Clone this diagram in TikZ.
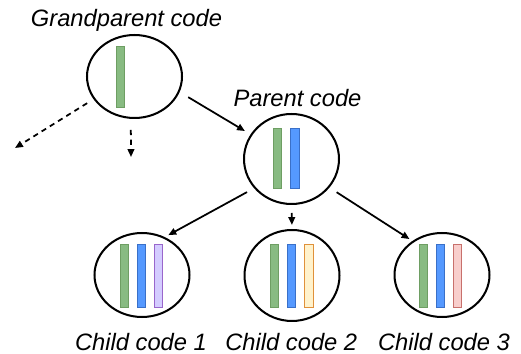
\documentclass[tikz,border=0pt]{standalone}
\usepackage{fontspec}
\setmainfont{Liberation Sans}
\usetikzlibrary{shapes.geometric,arrows.meta}
\definecolor{greenF}{HTML}{88BB82}
\definecolor{greenD}{HTML}{6E9E63}
\definecolor{blueF}{HTML}{5599FF}
\definecolor{blueD}{HTML}{3A70C8}
\definecolor{purpleF}{HTML}{D4CCFF}
\definecolor{purpleD}{HTML}{9966CC}
\definecolor{yellowF}{HTML}{FFF2CC}
\definecolor{yellowD}{HTML}{E0913A}
\definecolor{redF}{HTML}{F8CECC}
\definecolor{redD}{HTML}{C8706C}
\begin{document}
\begin{tikzpicture}[x=0.02cm,y=-0.02cm,
    cell/.style={draw,ellipse,line width=1.15pt,inner sep=0pt,minimum width=1.9cm,minimum height=1.66cm},
    bar/.style={draw,line width=0.6pt,inner sep=0pt,minimum width=0.17cm,minimum height=1.26cm},
    greenbar/.style={bar,fill=greenF,draw=greenD},
    bluebar/.style={bar,fill=blueF,draw=blueD},
    purplebar/.style={bar,fill=purpleF,draw=purpleD},
    yellowbar/.style={bar,fill=yellowF,draw=yellowD},
    redbar/.style={bar,fill=redF,draw=redD},
    lbl/.style={font=\fontsize{13.5}{16}\selectfont\itshape,anchor=base,inner sep=0pt},
    link/.style={line width=1pt,-{Triangle[length=4.5pt,width=3.8pt]}},
    hint/.style={link,dash pattern=on 3pt off 2.5pt}]
    \useasboundingbox (0,0) rectangle (521,354);
    \node[cell] (gp) at (134.5,76.5) {};
    \node[cell,minimum height=1.8cm] (par) at (291.5,159) {};
    \node[cell,minimum height=1.68cm] (c1) at (142,275) {};
    \node[cell,minimum height=1.82cm] (c2) at (292,275.5) {};
    \node[cell,minimum height=1.68cm] (c3) at (442,275) {};
    \node[greenbar,minimum height=1.22cm] (gpa) at (120.5,77) {};
    \node[greenbar,minimum height=1.2cm] (para) at (277.5,158.5) {};
    \node[bluebar,minimum height=1.2cm] (parb) at (295,158.5) {};
    \node[greenbar] (c1a) at (124.5,276) {};
    \node[bluebar] (c1b) at (141.5,276) {};
    \node[purplebar] (c1c) at (158.5,276) {};
    \node[greenbar] (c2a) at (274.5,276) {};
    \node[bluebar] (c2b) at (291.5,276) {};
    \node[yellowbar] (c2c) at (309,276) {};
    \node[greenbar] (c3a) at (423.5,276) {};
    \node[bluebar] (c3b) at (440.5,276) {};
    \node[redbar] (c3c) at (457.5,276) {};
    \node[lbl] (tgp) at (126.5,26.5) {Grandparent code};
    \node[lbl] (tpar) at (297.5,106.5) {Parent code};
    \node[lbl] (t1) at (141,350.5) {Child code 1};
    \node[lbl] (t2) at (291.3,350.5) {Child code 2};
    \node[lbl] (t3) at (444,350.5) {Child code 3};
    \coordinate (out1) at (15,148);
    \coordinate (out2) at (131,157);
    \draw[link,shorten <=0.2cm,shorten >=0.13cm] (gp.-19) -- (par.149);
    \draw[link,shorten <=0.16cm,shorten >=0.08cm] (par.218) -- (c1.59);
    \draw[link,shorten <=0.16cm,shorten >=0.08cm] (par.south) -- (c2.north);
    \draw[link,shorten <=0.17cm,shorten >=0.07cm] (par.-37) -- (c3.131);
    \draw[hint,shorten <=0.15cm] (gp.209) -- (out1);
    \draw[hint,shorten <=0.22cm] (gp.-95) -- (out2);
\end{tikzpicture}
\end{document}
